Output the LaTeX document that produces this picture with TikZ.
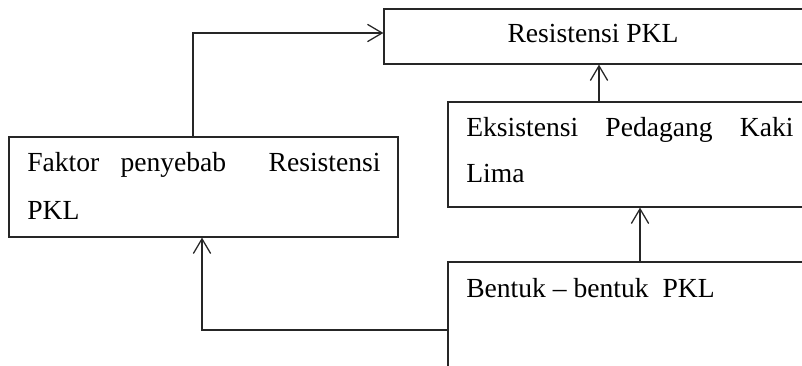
\documentclass[tikz,border=0pt]{standalone}
\usepackage{fontspec}
\setmainfont{Liberation Serif}
\usetikzlibrary{arrows.meta,fit}
\begin{document}
\begin{tikzpicture}[x=0.75pt,y=-0.75pt,
  box/.style={draw=black!85,line width=0.95pt,inner sep=0pt},
  lbl/.style={anchor=base west,inner sep=0pt,font=\fontsize{20.7}{24}\selectfont},
  arr/.style={draw=black!85,line width=0.95pt,-{Straight Barb[length=11pt,width=13pt]}},
  conn/.style={draw=black!85,line width=0.95pt}]
\useasboundingbox (0,0) rectangle (802,366);
\clip (0,0) rectangle (802,366);
% boxes
\node[box,fit={(384,9) (808,64)}] (res) {};
\node[box,fit={(9,137) (398,237)}] (fak) {};
\node[box,fit={(448,102) (808,207)}] (eks) {};
\node[box,fit={(448,262) (808,390)}] (ben) {};
% texts
\node[lbl,anchor=base] (tres) at (593,43) {Resistensi PKL};
\node[lbl] (tfak1) at (27,172) {\hbox to 265pt{Faktor\hfill penyebab\hfill\hfill Resistensi}};
\node[lbl] (tfak2) at (27,220) {PKL};
\node[lbl] (teks1) at (466,137) {\hbox to 245.5pt{Eksistensi\hfill Pedagang\hfill Kaki}};
\node[lbl] (teks2) at (466,183) {Lima};
\node[lbl] (tben) at (466,297) {Bentuk – bentuk\hspace{0.5em}PKL};
% connectors
\coordinate (a1) at (193,33);
\coordinate (a2) at (599,0);
\coordinate (a3) at (640,0);
\coordinate (a4) at (202,330);
\draw[arr] (a1 |- fak.north) -- (a1) -- (res.west |- a1);
\draw[arr] (a2 |- eks.north) -- (a2 |- res.south);
\draw[arr] (a3 |- ben.north) -- (a3 |- eks.south);
\draw[arr] (ben.west |- a4) -- (a4) -- (a4 |- fak.south);
\end{tikzpicture}
\end{document}
